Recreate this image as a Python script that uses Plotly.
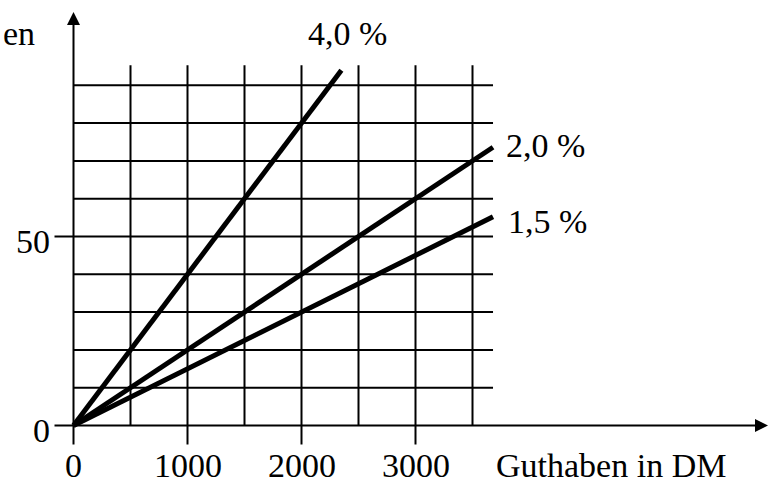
import plotly.graph_objects as go

# ---- data ----
rates = [4.0, 2.0, 1.5]                      # interest rate in %
rate_labels = ["4,0 %", "2,0 %", "1,5 %"]
x_end = [2350, 3680, 3680]                   # Guthaben where each line ends
x_ticks = [0, 1000, 2000, 3000]
x_tick_labels = ["0", "1000", "2000", "3000"]
y_ticks = [0, 50]
y_tick_labels = ["0", "50"]
x_grid = [500, 1000, 1500, 2000, 2500, 3000, 3500]
y_grid = [10, 20, 30, 40, 50, 60, 70, 80, 90]
x_title = "Guthaben in DM"
y_title = "en"

# ---- geometry (pixel mapping) ----
W, H = 769, 485
x0px, pxx = 73.5, 0.114     # px of x=0, px per unit
y0px, pxy = 425.5, 3.78     # px of y=0, px per unit
xr = [-x0px / pxx, (W - x0px) / pxx]
yr = [-(H - y0px) / pxy, y0px / pxy]
grid_xmax = 3680
grid_ymax = 95.3


def ux(px):
    return (px - x0px) / pxx


def uy(py):
    return (y0px - py) / pxy


FONT = "Liberation Serif, Times New Roman, serif"
FS = 34

fig = go.Figure()
shapes = []
LW = 2
for gx in x_grid:
    shapes.append(dict(type="line", xref="x", yref="y", x0=gx, x1=gx, y0=0, y1=grid_ymax,
                       line=dict(color="black", width=LW)))
for gy in y_grid:
    shapes.append(dict(type="line", xref="x", yref="y", x0=0, x1=grid_xmax, y0=gy, y1=gy,
                       line=dict(color="black", width=LW)))
for tx in x_ticks:
    shapes.append(dict(type="line", xref="x", yref="y", x0=tx, x1=tx, y0=-19 / pxy, y1=0,
                       line=dict(color="black", width=LW)))
for ty in y_ticks:
    shapes.append(dict(type="line", xref="x", yref="y", x0=-19 / pxx, x1=0, y0=ty, y1=ty,
                       line=dict(color="black", width=LW)))

for r, xe in zip(rates, x_end):
    fig.add_trace(go.Scatter(x=[0, xe], y=[0, r / 100 * xe], mode="lines",
                             line=dict(color="black", width=5), showlegend=False,
                             hoverinfo="skip"))

annotations = []
annotations.append(dict(x=ux(768), y=0, ax=0, ay=0, xref="x", yref="y",
                        axref="x", ayref="y", showarrow=True, arrowhead=2, arrowsize=1.3,
                        arrowwidth=2, arrowcolor="black", text=""))
annotations.append(dict(x=0, y=uy(12), ax=0, ay=0, xref="x", yref="y",
                        axref="x", ayref="y", showarrow=True, arrowhead=2, arrowsize=1.3,
                        arrowwidth=2, arrowcolor="black", text=""))

font = dict(family=FONT, size=FS, color="black")
for tx, tl in zip(x_ticks, x_tick_labels):
    annotations.append(dict(x=tx, y=0, xref="x", yref="y", text=tl, showarrow=False,
                            yshift=-40, xanchor="center", yanchor="middle", font=font))
annotations.append(dict(x=3500, y=0, xref="x", yref="y", text=x_title, showarrow=False,
                        xshift=21, yshift=-40, xanchor="left", yanchor="middle", font=font))
for ty, tl in zip(y_ticks, y_tick_labels):
    annotations.append(dict(x=0, y=ty, xref="x", yref="y", text=tl, showarrow=False,
                            xshift=-22, yshift=-5, xanchor="right", yanchor="middle", font=font))
annotations.append(dict(x=ux(37), y=uy(33), xref="x", yref="y", text=y_title, showarrow=False,
                        xanchor="right", yanchor="middle", font=font))

lab_shift = [(-35, 37), (11, 2), (13, -5)]
for r, xe, (sx, sy), lab in zip(rates, x_end, lab_shift, rate_labels):
    annotations.append(dict(x=xe, y=r / 100 * xe, xref="x", yref="y", text=lab,
                            showarrow=False, xshift=sx, yshift=sy, xanchor="left",
                            yanchor="middle", font=font))

fig.update_layout(
    width=W, height=H, margin=dict(l=0, r=0, t=0, b=0),
    paper_bgcolor="white", plot_bgcolor="white",
    xaxis=dict(range=xr, visible=False, fixedrange=True),
    yaxis=dict(range=yr, visible=False, fixedrange=True),
    shapes=shapes, annotations=annotations,
)

fig.write_html("out.html", config={"displayModeBar": False},
               post_script="document.body.style.margin='0';")
